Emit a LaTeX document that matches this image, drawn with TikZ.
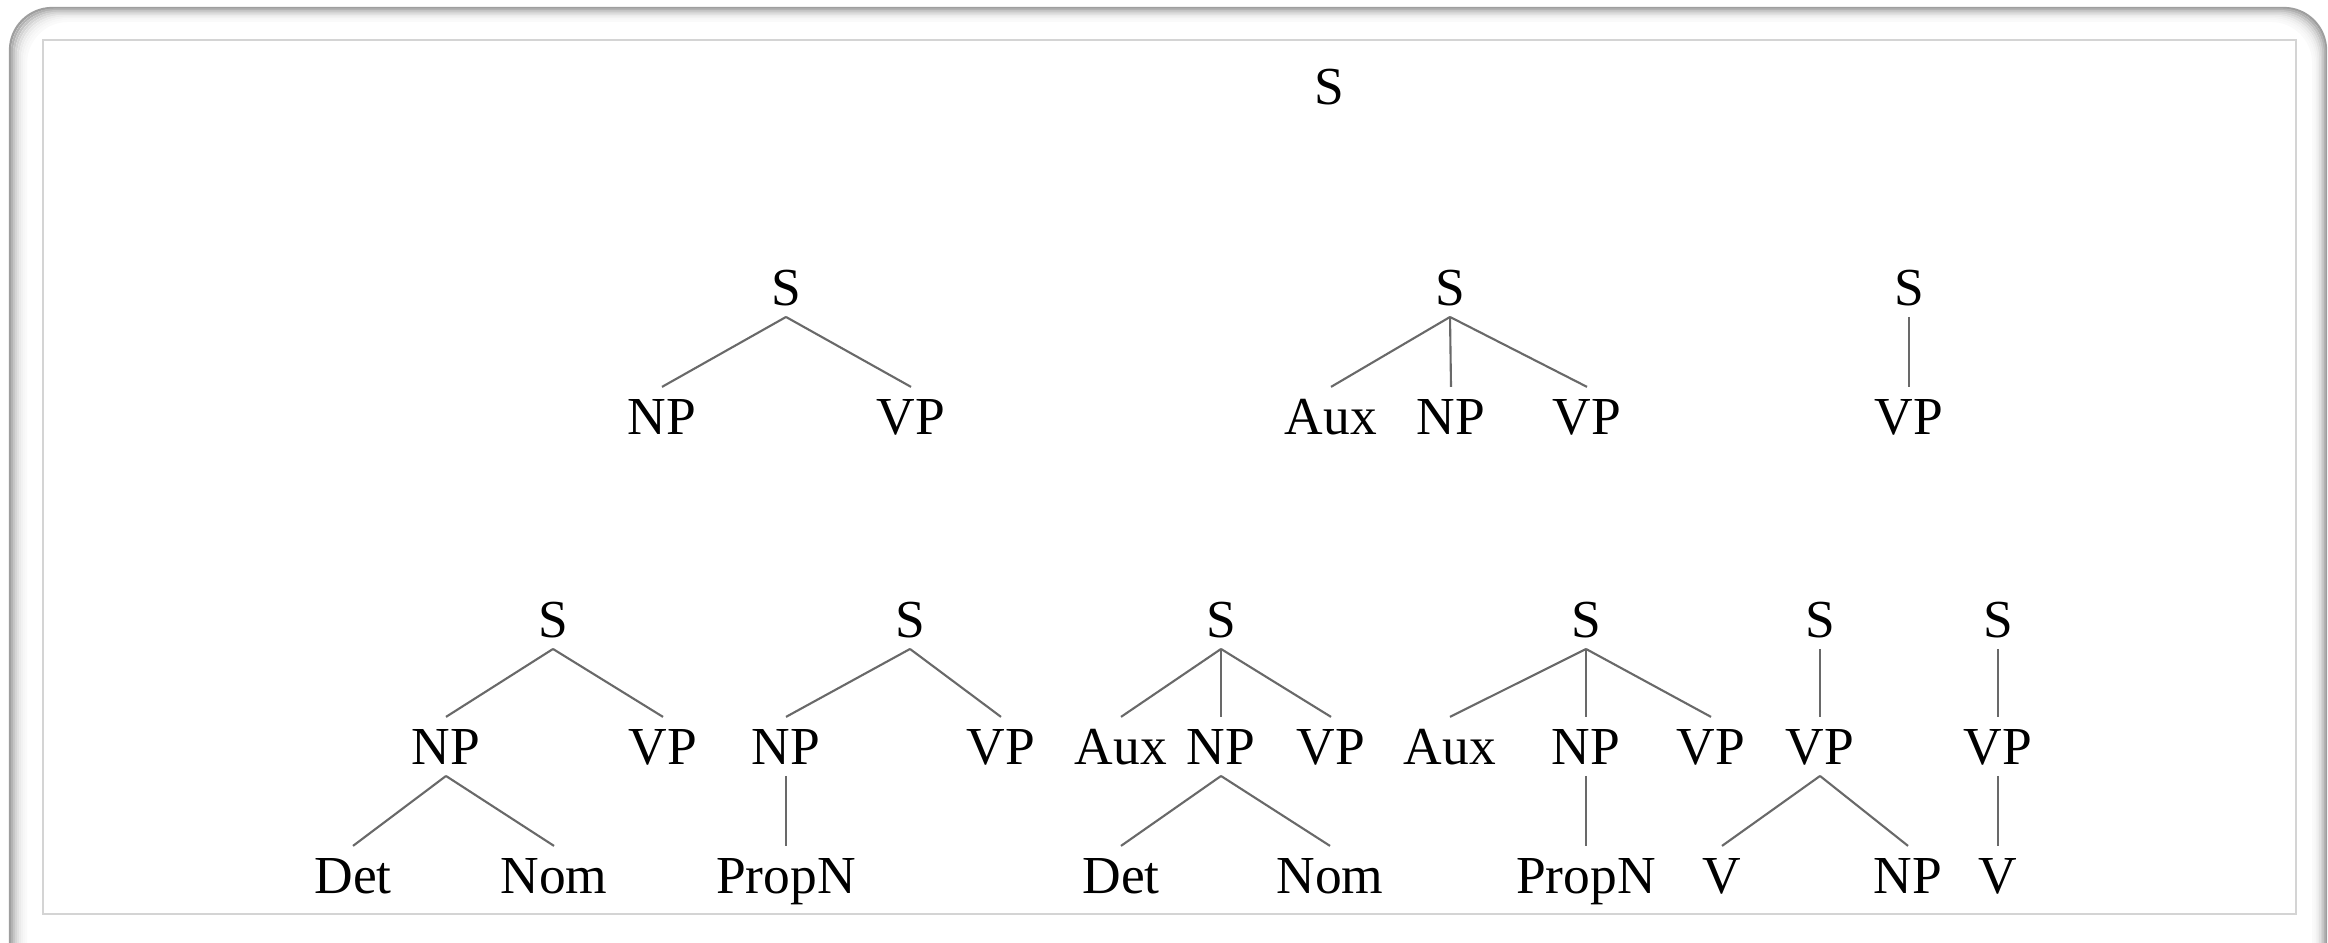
\documentclass[tikz,border=0pt]{standalone}
\usepackage{fontspec}
\setmainfont{Liberation Serif}
\definecolor{edgegray}{RGB}{105,105,105}
\definecolor{framegray}{RGB}{212,212,212}
\tikzset{
  lab/.style={anchor=base, inner xsep=0pt, inner ysep=3.2pt, text height=10pt, text depth=0pt,
    font=\fontsize{15.2pt}{18pt}\selectfont},
  edge/.style={draw=edgegray, line width=0.6pt},
}
\begin{document}
\begin{tikzpicture}[x=0.01cm, y=-0.01cm]
\useasboundingbox (0,0) rectangle (2328,942);
% outer shaded frame
\begin{scope}
\clip (0,0) rectangle (2328,942);
\foreach \i/\c in {0/38,1/30,2/23,3/17,4/12,5/8,6/5,7/3,8/2}{
  \draw[black!\c, line width=0.65pt, rounded corners=12]
    (10+2*\i, 8+1.6*\i) rectangle (2326-1.6*\i, 1000);
}
\end{scope}
\draw[framegray, line width=0.6pt] (43,40) rectangle (2296,914);

% row 0
\node[lab] (r) at (1329,104) {S};

% row 1
\node[lab] (aS) at (786,305) {S};
\node[lab] (aNP) at (662,434) {NP};
\node[lab] (aVP) at (911,434) {VP};
\node[lab] (bS) at (1450,305) {S};
\node[lab] (bAux) at (1331,434) {Aux};
\node[lab] (bNP) at (1451,434) {NP};
\node[lab] (bVP) at (1587,434) {VP};
\node[lab] (cS) at (1909,305) {S};
\node[lab] (cVP) at (1909,434) {VP};

% row 2
\node[lab] (dS) at (553,637) {S};
\node[lab] (dNP) at (446,764) {NP};
\node[lab] (dVP) at (663,764) {VP};
\node[lab] (dDet) at (353,893) {Det};
\node[lab] (dNom) at (554,893) {Nom};

\node[lab] (eS) at (910,637) {S};
\node[lab] (eNP) at (786,764) {NP};
\node[lab] (eVP) at (1001,764) {VP};
\node[lab] (ePropN) at (786,893) {PropN};

\node[lab] (fS) at (1221,637) {S};
\node[lab] (fAux) at (1121,764) {Aux};
\node[lab] (fNP) at (1221,764) {NP};
\node[lab] (fVP) at (1331,764) {VP};
\node[lab] (fDet) at (1121,893) {Det};
\node[lab] (fNom) at (1330,893) {Nom};

\node[lab] (gS) at (1586,637) {S};
\node[lab] (gAux) at (1450,764) {Aux};
\node[lab] (gNP) at (1586,764) {NP};
\node[lab] (gVP) at (1711,764) {VP};
\node[lab] (gPropN) at (1586,893) {PropN};

\node[lab] (hS) at (1820,637) {S};
\node[lab] (hVP) at (1820,764) {VP};
\node[lab] (hV) at (1722,893) {V};
\node[lab] (hNP) at (1908,893) {NP};

\node[lab] (iS) at (1998,637) {S};
\node[lab] (iVP) at (1998,764) {VP};
\node[lab] (iV) at (1998,893) {V};

% edges
\foreach \p/\c in {aS/aNP, aS/aVP, bS/bAux, bS/bNP, bS/bVP, cS/cVP,
  dS/dNP, dS/dVP, dNP/dDet, dNP/dNom,
  eS/eNP, eS/eVP, eNP/ePropN,
  fS/fAux, fS/fNP, fS/fVP, fNP/fDet, fNP/fNom,
  gS/gAux, gS/gNP, gS/gVP, gNP/gPropN,
  hS/hVP, hVP/hV, hVP/hNP,
  iS/iVP, iVP/iV}{
  \draw[edge] (\p.south) -- (\c.north);
}
\end{tikzpicture}
\end{document}
